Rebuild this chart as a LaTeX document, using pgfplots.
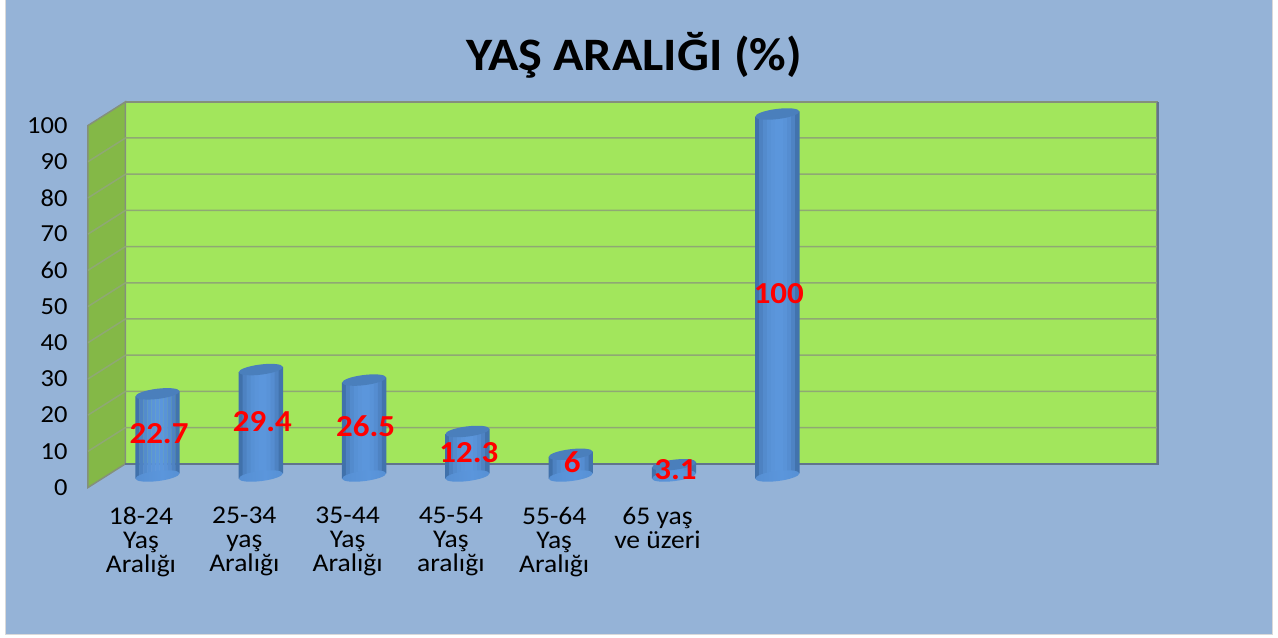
\documentclass[border=0pt]{standalone}
\usepackage{pgfplots}
\usepackage{pgfplotstable}
\usepackage{fontspec}
\pgfplotsset{compat=1.18}
\setmainfont[FakeStretch=1.08]{Carlito}
\definecolor{panel}{HTML}{95B3D7}
\definecolor{wallc}{HTML}{A2E65C}
\definecolor{sidec}{HTML}{84B847}
\definecolor{gridc}{HTML}{8FA874}
\definecolor{edgec}{HTML}{84907C}
\definecolor{capc}{HTML}{4A7FBC}
\definecolor{cyla}{HTML}{3F6FA8}
\definecolor{cylb}{HTML}{5B96DC}
\pgfdeclarehorizontalshading{cyl}{100bp}{color(0bp)=(cyla); color(22bp)=(cylb!80!cyla); color(55bp)=(cylb); color(80bp)=(cylb!80!cyla); color(100bp)=(cyla)}
\pgfdeclareplotmark{cylbase}{\pgfpathellipse{\pgfpointorigin}{\pgfqpoint{22pt}{2.8pt}}{\pgfqpoint{-1pt}{5pt}}\pgfshadepath{cyl}{0}\pgfusepath{discard}}
\pgfdeclareplotmark{cyltop}{\pgfsetfillcolor{capc}\pgfpathellipse{\pgfpointorigin}{\pgfqpoint{22pt}{2.8pt}}{\pgfqpoint{-1pt}{5pt}}\pgfusepath{fill}}
\pgfplotstableread{
x v mid
0 22.7 14.95
1 29.4 18.3
2 26.5 16.85
3 12.3 9.75
4 6 6.9
5 3.1 5.0
6 100 53.6
}\agedata
% one vertical strip of every cylinder: shift, vertical shift, tone
\newcommand\strip[3]{\addplot[ybar,bar width=4.4pt,bar shift=#1pt,draw=none,fill=cylb!#3!cyla,yshift=#2pt] table[x=x,y=v]{\agedata};}
\begin{document}
\begin{tikzpicture}[x=1pt,y=1pt]
\fill[white] (-88,-150) rectangle (1190,487);
\fill[panel] (-82,-147) rectangle (1184,487);
\draw[black!15,line width=1pt] (-82,487) -- (-82,-147) -- (1184,-147) -- (1184,487);
\begin{axis}[
  scale only axis, width=1031.5pt, height=362pt,
  xmin=-0.6728, xmax=9.3127, ymin=0, ymax=100,
  clip=false,
  axis line style={draw=none},
  tick style={draw=none},
  xtick={0,1,2,3,4,5,6},
  xticklabels={{18-24\\Yaş\\Aralığı},{25-34\\yaş\\Aralığı},{35-44\\Yaş\\Aralığı},{45-54\\Yaş\\aralığı},{55-64\\Yaş\\Aralığı},{65 yaş\\ve üzeri},{}},
  xticklabel style={align=center,font=\fontsize{25.5}{24}\selectfont,xshift=-16.5pt,yshift=-16pt,text=black},
  ytick={0,10,...,100},
  yticklabel style={font=\fontsize{24.5}{24}\selectfont,text=black},
  tick label style={/pgf/number format/assume math mode=true},
  y tick label style={xshift=-17pt},
  unbounded coords=jump,
]
% back wall
\addplot[fill=wallc,draw=edgec,line width=1.5pt] coordinates {(-0.3098,6.55) (9.676,6.55) (9.676,106.55) (-0.3098,106.55)} --cycle;
% side wall
\addplot[fill=sidec,draw=edgec,line width=1.5pt] coordinates {(-0.6728,0) (-0.3098,6.55) (-0.3098,106.55) (-0.6728,100)} --cycle;
% grid
\addplot[gridc,line width=1.5pt] coordinates {
(-0.6728,10) (-0.3098,16.55) (9.676,16.55) (nan,nan)
(-0.6728,20) (-0.3098,26.55) (9.676,26.55) (nan,nan)
(-0.6728,30) (-0.3098,36.55) (9.676,36.55) (nan,nan)
(-0.6728,40) (-0.3098,46.55) (9.676,46.55) (nan,nan)
(-0.6728,50) (-0.3098,56.55) (9.676,56.55) (nan,nan)
(-0.6728,60) (-0.3098,66.55) (9.676,66.55) (nan,nan)
(-0.6728,70) (-0.3098,76.55) (9.676,76.55) (nan,nan)
(-0.6728,80) (-0.3098,86.55) (9.676,86.55) (nan,nan)
(-0.6728,90) (-0.3098,96.55) (9.676,96.55)
};
% darker right and bottom edges
\addplot[color=black!35!panel,line width=2pt] coordinates {(-0.3098,6.45) (9.685,6.45) (9.685,106.55)};
% cylinders
\addplot[only marks,mark=cylbase,yshift=11.5pt] table[x=x,y expr=0]{\agedata};
\strip{-20}{8.96}{5}
\strip{-16}{9.47}{50}
\strip{-12}{9.98}{72}
\strip{-8}{10.48}{86}
\strip{-4}{10.99}{95}
\strip{0}{11.5}{100}
\strip{4}{12.01}{100}
\strip{8}{12.52}{92}
\strip{12}{13.02}{78}
\strip{16}{13.53}{52}
\strip{20}{14.04}{10}
\addplot[only marks,mark=cyltop,yshift=11.5pt] table[x=x,y=v]{\agedata};
% labels
\addplot[draw=none,mark=none,nodes near coords,point meta=explicit symbolic,
  every node near coord/.append style={anchor=center,text=red,font=\fontsize{30.5}{30}\selectfont\bfseries,xshift=1.5pt}]
  table[x=x,y=mid,meta=v]{\agedata};
\node[font=\fontsize{46.5}{46}\selectfont\bfseries,text=black] at (axis cs:4.613,119.5) {YAŞ ARALIĞI (\%)};
\end{axis}
\end{tikzpicture}
\end{document}
